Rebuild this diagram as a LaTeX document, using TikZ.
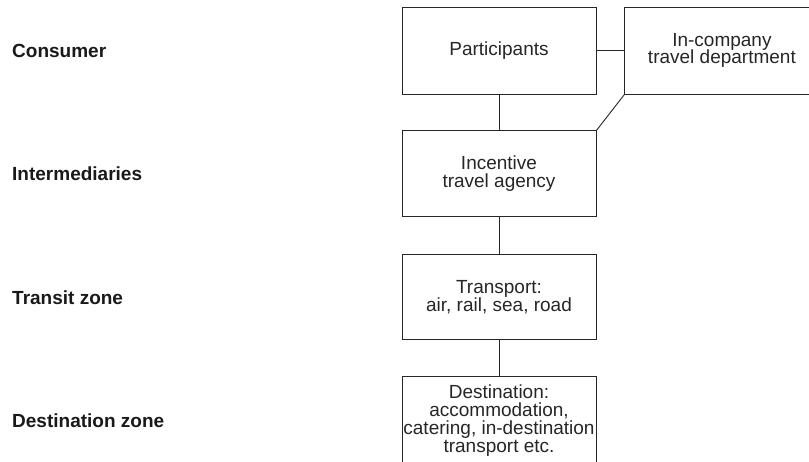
\documentclass[tikz,border=0pt]{standalone}
\usepackage{fontspec}
\setmainfont{Liberation Sans}
\usetikzlibrary{positioning}

\begin{document}
\begin{tikzpicture}[
		x=1pt, y=-1pt,
		node distance=36pt,
		block/.style={draw=black!85, line width=0.9pt, minimum width=194pt, minimum height=87pt, inner sep=0pt, align=center, text=black!85, font=\fontsize{19}{17.8}\selectfont},
		zone/.style={anchor=west, inner sep=0pt, text=black!90, font=\fontsize{19}{22}\selectfont\bfseries},
		link/.style={draw=black!85, line width=0.9pt},
	]
		\useasboundingbox (0,0) rectangle (809,461);
		\coordinate (lx) at (12,0);

		\node[block] (pt) at (499,50.5) {Participants};
		\node[block, right=28pt of pt] (itd) {In-company\\travel department};
		\node[block, below=of pt, minimum height=86pt] (ita) {Incentive\\travel agency};
		\node[block, below=37pt of ita, minimum height=85pt] (tr) {Transport:\\air, rail, sea, road};
		\node[block, below=of tr, minimum height=88pt] (dest) {Destination:\\accommodation,\\catering, in-destination\\transport etc.};

		\node[zone] (cons) at (lx |- pt) {Consumer};
		\node[zone] (inter) at (lx |- ita) {Intermediaries};
		\node[zone] (trz) at (lx |- tr) {Transit zone};
		\node[zone] (dz) at (lx |- dest) {Destination zone};

		\draw[link] (pt) -- (itd);
		\draw[link] (pt) -- (ita);
		\draw[link] (itd.south west) -- (ita.north east);
		\draw[link] (ita) -- (tr);
		\draw[link] (tr) -- (dest);
	\end{tikzpicture}
\end{document}
